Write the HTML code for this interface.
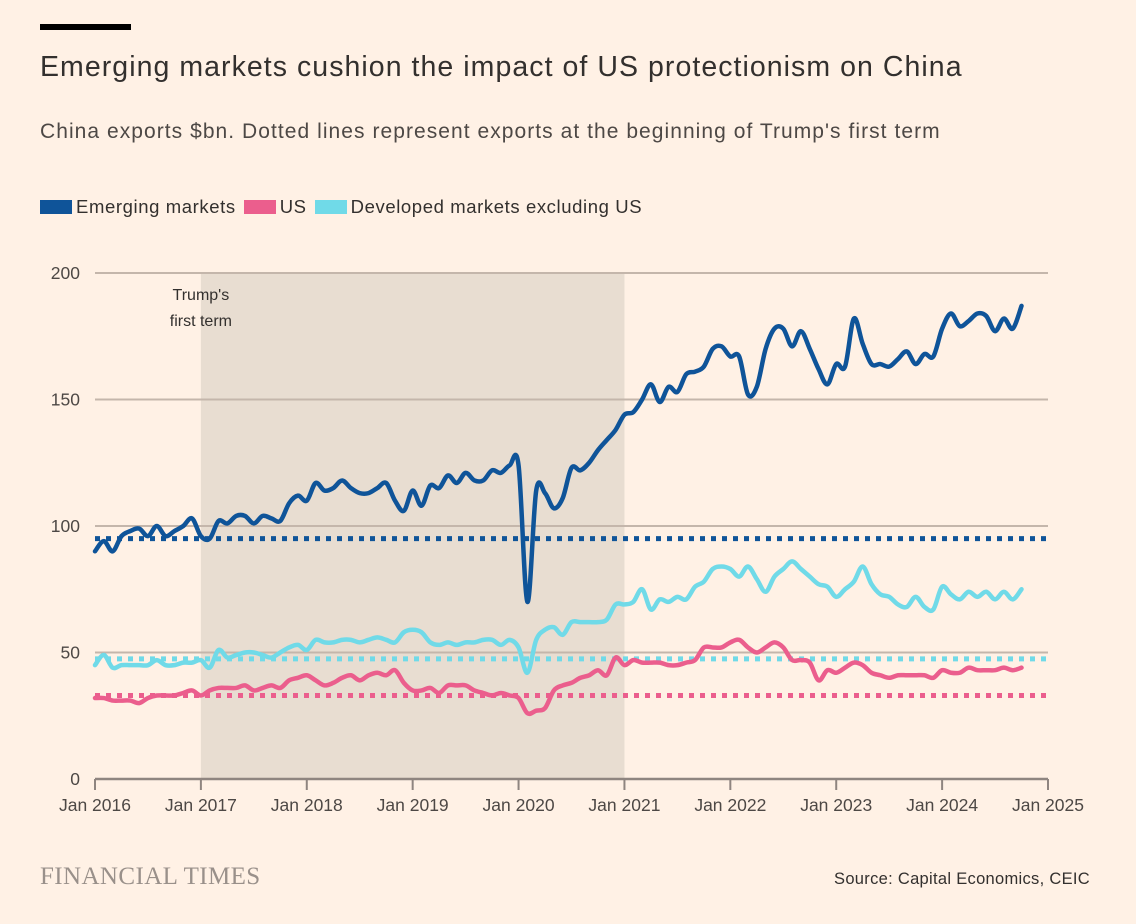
<!DOCTYPE html>
<html><head><meta charset="utf-8">
<style>
body{margin:0;background:#fff1e5;font-family:"Liberation Sans",sans-serif;}
#wrap{position:relative;width:1136px;height:924px;overflow:hidden;background:#fff1e5;}
.t{position:absolute;white-space:nowrap;}
</style></head>
<body>
<div id="wrap">
<div style="position:absolute;left:40px;top:24px;width:91px;height:6px;background:#000"></div>
<div class="t" style="left:40px;top:51px;font-size:28.5px;letter-spacing:1.05px;color:#33302e">Emerging markets cushion the impact of US protectionism on China</div>
<div class="t" style="left:40px;top:120px;font-size:21px;letter-spacing:1.05px;color:#4d4845">China exports $bn. Dotted lines represent exports at the beginning of Trump's first term</div>
<div style="position:absolute;left:40px;top:196px;font-size:18.5px;letter-spacing:0.6px;color:#33302e;display:flex;align-items:center">
 <span style="display:flex;align-items:center"><span style="display:inline-block;width:32px;height:14px;background:#0f5499;margin-right:4px"></span>Emerging markets</span>
 <span style="display:flex;align-items:center;margin-left:8px"><span style="display:inline-block;width:32px;height:14px;background:#eb5e8d;margin-right:4px"></span>US</span>
 <span style="display:flex;align-items:center;margin-left:8px"><span style="display:inline-block;width:32px;height:14px;background:#70dae8;margin-right:4px"></span>Developed markets excluding US</span>
</div>
<svg id="chart" width="1136" height="924" style="position:absolute;left:0;top:0"></svg>
<div class="t" style="left:40px;top:863px;font-family:'Liberation Serif',serif;font-size:25px;color:#99908a;letter-spacing:0.4px">FINANCIAL TIMES</div>
<div class="t" style="right:46px;top:870px;font-size:16.5px;letter-spacing:0.3px;color:#33302e">Source: Capital Economics, CEIC</div>
</div>
<script>
const years=["Jan 2016","Jan 2017","Jan 2018","Jan 2019","Jan 2020","Jan 2021","Jan 2022","Jan 2023","Jan 2024","Jan 2025"];
const yTicks=[0,50,100,150,200];
const emerging=[90,94,90,96,98,99,96,100,96,98,100,103,
96,95,102,101,104,104,101,104,103,102,109,112,
110,117,114,115,118,115,113,113,115,117,110,106,
114,108,116,115,120,117,121,118,118,122,121,124,
124,70,114,113,107,111,123,122,125,130,134,138,
144,145,150,156,149,155,153,160,161,163,170,171,
167,167,152,155,170,178,178,171,177,170,162,156,
164,163,182,172,164,164,163,166,169,164,168,167,
178,184,179,181,184,183,177,182,178,187];
const us=[32,32,31,31,31,30,32,33,33,33,34,35,
33,35,36,36,36,37,35,36,37,36,39,40,
41,39,37,38,40,41,39,41,42,41,43,38,
35,35,36,34,37,37,37,35,34,33,34,33,
32,26,27,28,35,37,38,40,41,43,41,48,
45,47,46,46,46,45,45,46,47,52,52,52,
54,55,52,50,52,54,52,47,47,46,39,43,
42,44,46,45,42,41,40,41,41,41,41,40,
43,42,42,44,43,43,43,44,43,44];
const developed=[45,49,44,45,45,45,45,47,45,45,46,46,
47,44,51,48,49,50,50,49,48,50,52,53,
51,55,54,54,55,55,54,55,56,55,54,58,
59,58,54,53,54,53,54,54,55,55,53,55,
52,42,55,59,60,57,62,62,62,62,63,69,
69,70,75,67,71,70,72,71,76,78,83,84,
83,80,84,79,74,80,83,86,83,80,77,76,
72,75,78,84,77,73,72,69,68,72,68,67,
76,73,71,74,72,74,71,74,71,75];
const baseEM=95, baseUS=33, baseDM=47.5;
const shadeStart=12, shadeEnd=60;

const NS="http://www.w3.org/2000/svg";
const svg=document.getElementById('chart');
const x0=95,x1=1048,yb=779,yt=273;
const X=m=>x0+(x1-x0)*m/108;
const Y=v=>yb-(yb-yt)*v/200;
function el(tag,attrs,parent){const e=document.createElementNS(NS,tag);for(const k in attrs)e.setAttribute(k,attrs[k]);(parent||svg).appendChild(e);return e;}

const shade=el('rect',{x:X(shadeStart),y:yt,width:X(shadeEnd)-X(shadeStart),height:yb-yt,fill:'#e8ddd1'});



yTicks.forEach(v=>{
 if(v>0){const g=el('line',{x1:x0,x2:x1,y1:Y(v),y2:Y(v),stroke:'#c4b6ab','stroke-width':2});
 
 }
 const t=el('text',{x:80,y:Y(v)+6,'text-anchor':'end','font-size':17.5,fill:'#4d4845','font-family':'Liberation Sans, sans-serif'});
 t.textContent=v;
 
 
});

const ann1=el('text',{x:X(shadeStart),y:300,'text-anchor':'middle','font-size':16,fill:'#33302e','font-family':'Liberation Sans, sans-serif'});
ann1.textContent="Trump's";


const ann2=el('text',{x:X(shadeStart),y:326,'text-anchor':'middle','font-size':16,fill:'#33302e','font-family':'Liberation Sans, sans-serif'});
ann2.textContent="first term";



function dotted(v,color,name){
 const l=el('line',{x1:x0,x2:x1,y1:Y(v),y2:Y(v),stroke:color,'stroke-width':5,'stroke-dasharray':'5 6'});
 
 
}
dotted(baseEM,'#0f5499','baseline-emerging');
dotted(baseDM,'#70dae8','baseline-developed');
dotted(baseUS,'#eb5e8d','baseline-us');

function smooth(vals){
 const p=vals.map((v,i)=>[X(i),Y(v)]);
 let d=`M${p[0][0]},${p[0][1]}`;
 for(let i=0;i<p.length-1;i++){
  const a=p[i-1]||p[i],b=p[i],c=p[i+1],e=p[i+2]||c;
  const c1=[b[0]+(c[0]-a[0])/6,b[1]+(c[1]-a[1])/6],c2=[c[0]-(e[0]-b[0])/6,c[1]-(e[1]-b[1])/6];
  d+=`C${c1[0]},${c1[1]} ${c2[0]},${c2[1]} ${c[0]},${c[1]}`;
 }
 return d;
}
function series(vals,color,name){
 const s=el('path',{d:smooth(vals),fill:'none',stroke:color,'stroke-width':4.5,'stroke-linejoin':'round','stroke-linecap':'round'});
 
 
}
series(developed,'#70dae8','series-developed');
series(us,'#eb5e8d','series-us');
series(emerging,'#0f5499','series-emerging');

const ax=el('line',{x1:x0,x2:x1,y1:yb,y2:yb,stroke:'#8f8580','stroke-width':2.5});


years.forEach((lab,i)=>{
 const x=X(i*12);
 const tk=el('line',{x1:x,x2:x,y1:yb,y2:yb+11,stroke:'#8f8580','stroke-width':2});
 
 
 const t=el('text',{x:x,y:811,'text-anchor':'middle','font-size':17.5,fill:'#4d4845','font-family':'Liberation Sans, sans-serif'});
 t.textContent=lab;
 
 
});
</script>
</body></html>
